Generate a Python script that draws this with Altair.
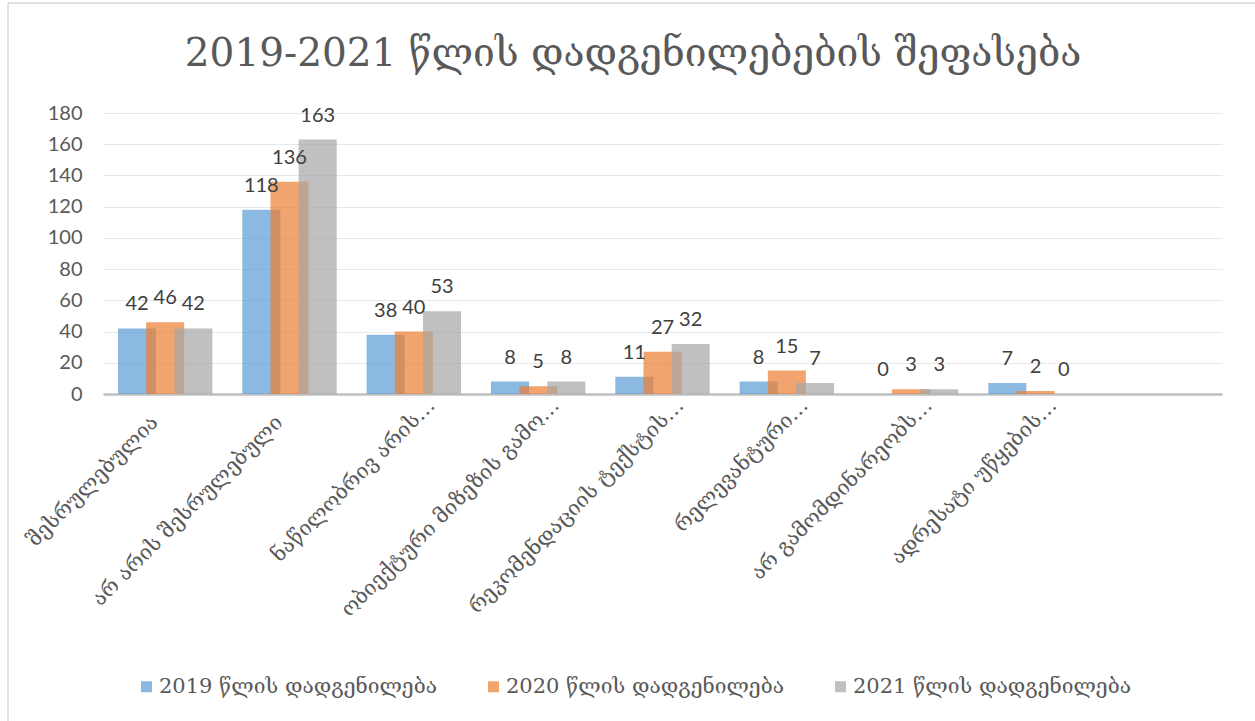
import altair as alt
import pandas as pd

categories = [
    "შესრულებულია",
    "არ არის შესრულებული",
    "ნაწილობრივ არის…",
    "ობიექტური მიზეზის გამო…",
    "რეკომენდაციის ტექსტის…",
    "რელევანტური…",
    "არ გამომდინარეობს…",
    "ადრესატი უწყების…",
]
series = ["2019 წლის დადგენილება", "2020 წლის დადგენილება", "2021 წლის დადგენილება"]
v2019 = [42, 118, 38, 8, 11, 8, 0, 7]
v2020 = [46, 136, 40, 5, 27, 15, 3, 2]
v2021 = [42, 163, 53, 8, 32, 7, 3, 0]
colors = ["#5B9BD5", "#ED7D31", "#A5A5A5"]
y_ticks = [0, 20, 40, 60, 80, 100, 120, 140, 160, 180]
x_domain = categories + [" "]
title_text = "2019-2021 წლის დადგენილებების შეფასება"

rows = []
for s, vals in zip(series, [v2019, v2020, v2021]):
    for c, v in zip(categories, vals):
        rows.append({"category": c, "series": s, "value": v})
df = pd.DataFrame(rows)

GEO = "DejaVu Serif"
NUM = "Lato"
GREY = "#595959"

W, H = 1119, 281
STEP = W / 9.0
BAND = STEP * 0.68
SHIFT = 0.175 * (BAND - BAND / 3.0)

is_cut = "indexof(datum.value, '…') >= 0"

x_enc = alt.X(
    "category:N",
    sort=x_domain,
    scale=alt.Scale(domain=x_domain, paddingInner=0.32, paddingOuter=0.16),
    axis=alt.Axis(
        title=None,
        labelAngle=-45,
        labelAlign="right",
        labelBaseline="middle",
        labelFont=GEO,
        labelFontSize=21,
        labelColor=GREY,
        labelPadding={"condition": {"test": is_cut, "value": 8}, "value": 25},
        labelOffset={"condition": {"test": is_cut, "value": 18}, "value": -10},
        labelLimit=0,
        labelOverlap=False,
        ticks=False,
        domainColor="#BFBFBF",
        domainWidth=2.5,
        grid=False,
    ),
)
xo_enc = alt.XOffset(
    "series:N", sort=series,
    scale=alt.Scale(domain=series, range=[SHIFT, BAND + SHIFT], paddingInner=0, paddingOuter=0),
)
y_enc = alt.Y(
    "value:Q",
    scale=alt.Scale(domain=[0, 180], nice=False),
    axis=alt.Axis(
        title=None,
        values=y_ticks,
        labelFont=NUM,
        labelFontSize=20,
        labelColor=GREY,
        labelPadding=21,
        ticks=False,
        domain=False,
        gridColor="#E7E7E7",
        gridWidth=1.2,
    ),
)
color_enc = alt.Color(
    "series:N",
    sort=series,
    scale=alt.Scale(domain=series, range=colors),
    legend=alt.Legend(
        title=None,
        orient="none",
        legendX=33,
        legendY=563,
        direction="horizontal",
        symbolType="square",
        symbolSize=121,
        symbolStrokeWidth=0,
        symbolOpacity=0.7,
        labelFont=GEO,
        labelFontSize=21,
        labelColor=GREY,
        labelOffset=2,
        columnPadding=46,
        labelLimit=0,
    ),
)

base = alt.Chart(df)

bars = base.mark_bar(width=alt.RelativeBandSize(1.35), opacity=0.7).encode(
    x=x_enc, xOffset=xo_enc, y=y_enc, color=color_enc
)

labels = base.mark_text(
    font=NUM, fontSize=20, color="#404040", baseline="alphabetic", dy=-18, dx=-SHIFT
).encode(
    x=x_enc, xOffset=xo_enc, y=y_enc, text="value:Q"
)

frame_data = alt.Data(values=[{"f": 1}])
frame_v = alt.Chart(frame_data).mark_rule(color="#D9D9D9", strokeWidth=1.5).encode(
    x=alt.value(-95), y=alt.value(-110), y2=alt.value(608)
)
frame_h = alt.Chart(frame_data).mark_rule(color="#D9D9D9", strokeWidth=1.5).encode(
    x=alt.value(-95), x2=alt.value(1152), y=alt.value(-110)
)
title_mark = alt.Chart(alt.Data(values=[{"t": title_text}])).mark_text(
    font=GEO, fontSize=39, color=GREY, align="center", baseline="alphabetic"
).encode(
    x=alt.value(530), y=alt.value(-47), text="t:N"
)

chart = alt.layer(frame_v, frame_h, title_mark, bars, labels).properties(
    width=W,
    height=H,
    autosize=alt.AutoSizeParams(type="none"),
    padding={"left": 103, "top": 113, "right": 33, "bottom": 327},
    background="white",
).configure_view(stroke=None)

chart.save("out.html", embed_options={"renderer": "svg", "actions": False})
